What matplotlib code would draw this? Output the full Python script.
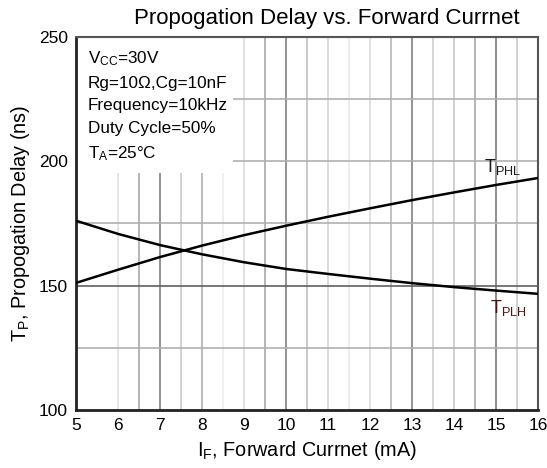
import numpy as np
import matplotlib.pyplot as plt
from matplotlib.patches import Rectangle

plt.rcParams['font.family'] = ['Liberation Sans', 'DejaVu Sans']
plt.rcParams['mathtext.fontset'] = 'custom'
plt.rcParams['mathtext.rm'] = 'Liberation Sans'
plt.rcParams['mathtext.it'] = 'Liberation Sans'

# forward current (mA)
i_f = [5, 6, 7, 8, 9, 10, 11, 12, 13, 14, 15, 16]
# propagation delays (ns)
t_phl = [151.1, 156.4, 161.5, 166.1, 170.3, 174.1, 177.7, 181.1, 184.4, 187.5, 190.5, 193.3]
t_plh = [176.1, 170.8, 166.3, 162.6, 159.4, 156.7, 154.7, 152.8, 151.0, 149.4, 148.0, 146.7]

x_ticks = [5, 6, 7, 8, 9, 10, 11, 12, 13, 14, 15, 16]
y_ticks = [100, 150, 200, 250]

conditions = [r'$\mathrm{V_{CC}}$=30V', 'Rg=10Ω,Cg=10nF', 'Frequency=10kHz',
              'Duty Cycle=50%', r'$\mathrm{T_{A}}$=25°C']

fig = plt.figure(figsize=(5.47, 4.68), dpi=100)
ax = fig.add_axes([0.139, 0.124, 0.845, 0.797])

# scanned-looking grid: every 0.5 mA, uneven shades
shade = {6.0: '#e0e0e0', 6.5: '#a8a8a8', 7.0: '#808080', 7.5: '#c8c8c8',
         8.0: '#b0b0b0', 8.5: '#ececec', 9.0: '#dcdcdc', 9.5: '#a8a8a8',
         10.0: '#808080', 10.5: '#c0c0c0', 11.0: '#d4d4d4', 11.5: '#eaeaea',
         12.0: '#dcdcdc', 12.5: '#b8b8b8', 13.0: '#808080', 13.5: '#d0d0d0',
         14.0: '#c8c8c8', 14.5: '#a8a8a8', 15.0: '#7a7a7a', 15.5: '#c8c8c8'}
for xv, c in shade.items():
    ax.axvline(xv, color=c, lw=1.2, zorder=1)
for yv, c in [(125, '#b0b0b0'), (150, '#606060'), (175, '#b0b0b0'),
              (200, '#b0b0b0'), (225, '#b0b0b0')]:
    ax.axhline(yv, color=c, lw=1.2, zorder=1)

ax.add_patch(Rectangle((0, 0.635), 0.34, 0.365, transform=ax.transAxes,
                       facecolor='white', edgecolor='none', zorder=1.5))

ax.plot(i_f, t_phl, color='black', lw=1.8, zorder=3)
ax.plot(i_f, t_plh, color='black', lw=1.8, zorder=3)

ax.text(14.72, 195.5, r'$\mathrm{T_{PHL}}$', fontsize=13, color='#1a1a1a', zorder=4)
ax.text(14.85, 139.0, r'$\mathrm{T_{PLH}}$', fontsize=13, color='#4a1414', zorder=4)

ys = [0.930, 0.863, 0.803, 0.743, 0.676]
for s, yf in zip(conditions, ys):
    ax.text(0.026, yf, s, transform=ax.transAxes, fontsize=12.3,
            va='baseline', ha='left', zorder=4)

ax.set_xlim(5, 16)
ax.set_ylim(100, 250)
ax.set_xticks(x_ticks)
ax.set_yticks(y_ticks)
ax.tick_params(length=0, labelsize=12.5, pad=6)
for side in ['left', 'bottom']:
    ax.spines[side].set_linewidth(2)
    ax.spines[side].set_color('#222222')
for side in ['top', 'right']:
    ax.spines[side].set_linewidth(1.5)
    ax.spines[side].set_color('#555555')

ax.set_xlabel(r'$\mathrm{I_F}$, Forward Currnet (mA)', fontsize=14.3, labelpad=4)
ax.set_ylabel(r'$\mathrm{T_P}$, Propogation Delay (ns)', fontsize=14.3, labelpad=5)
fig.text(0.598, 0.948, 'Propogation Delay vs. Forward Currnet', fontsize=16,
         ha='center', va='baseline')

fig.savefig('out.png', dpi=100)
